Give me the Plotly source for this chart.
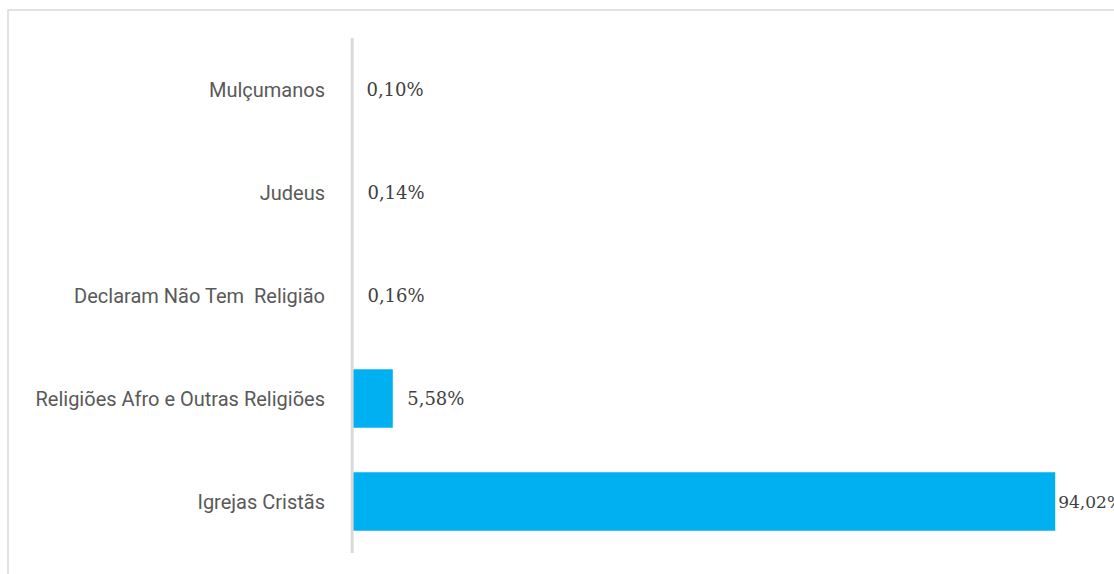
import plotly.graph_objects as go

categories = ["Igrejas Cristãs", "Religiões Afro e Outras Religiões",
              "Declaram Não Tem  Religião", "Judeus", "Mulçumanos"]
values = [94.02, 5.58, 0.16, 0.14, 0.10]

pad = "\u00a0\u00a0"
templates = ["%{x:.2f}%"] + [pad + "%{x:.2f}%"] * 4

fig = go.Figure(go.Bar(
    x=values, y=categories, orientation="h",
    marker=dict(color="#00B0F0", line=dict(width=0)),
    width=0.57,
    texttemplate=templates, textposition="outside",
    textfont=dict(family="DejaVu Serif, serif", size=[17, 18, 18, 18, 18], color="#404040"),
    cliponaxis=False, constraintext="none",
))

fig.update_layout(
    width=1114, height=574,
    margin=dict(l=351, r=14, t=38, b=21),
    paper_bgcolor="white", plot_bgcolor="white",
    separators=",.",
    showlegend=False,
    xaxis=dict(range=[0, 100], visible=False, showgrid=False, zeroline=False),
    yaxis=dict(showline=False, showgrid=False, zeroline=False, ticks="",
               ticklabelstandoff=25,
               tickfont=dict(family="Roboto, sans-serif", size=20, color="#595959")),
    shapes=[
        dict(type="rect", xref="paper", yref="paper",
             x0=(8 - 351) / 749, x1=(1125 - 351) / 749,
             y0=(553 - 585) / 515, y1=(553 - 10) / 515,
             line=dict(color="#d9d9d9", width=1.5), fillcolor="rgba(0,0,0,0)",
             layer="below"),
        dict(type="line", xref="paper", yref="paper", x0=0.0015, x1=0.0015, y0=0, y1=1,
             line=dict(color="#d9d9d9", width=3), layer="above"),
    ],
)

fig.write_html("out.html")
